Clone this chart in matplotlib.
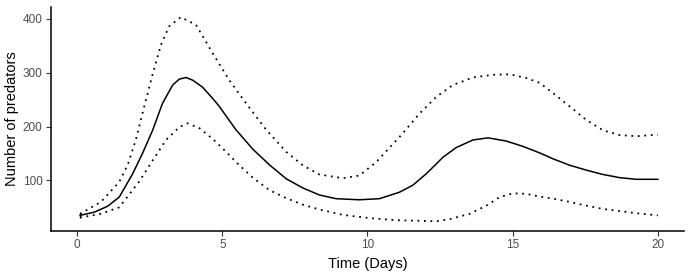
import matplotlib
matplotlib.use("Agg")
import matplotlib.pyplot as plt

plt.rcParams['font.family'] = ['Liberation Sans', 'DejaVu Sans']

# mean number of predators over time (days)
days = [0.1, 0.59, 1.05, 1.45, 1.91, 2.25, 2.6, 2.94, 3.29, 3.52, 3.75,
        3.98, 4.32, 4.67, 4.9, 5.47, 6.05, 6.62, 7.2, 7.77, 8.34, 8.92, 9.72,
        10.41, 11.1, 11.56, 12.02, 12.6, 13.06, 13.63, 14.15, 14.78, 15.36,
        15.93, 16.39, 16.97, 17.54, 18.11, 18.69, 19.26, 20.0]
mean_pred = [35, 41, 52, 69, 112, 150, 193, 243, 277, 288, 291,
             286, 273, 252, 237, 194, 158, 129, 103, 86, 73, 66, 64,
             66, 78, 91, 112, 143, 161, 175, 179, 173, 163,
             151, 140, 128, 119, 111, 105, 102, 102]

# upper band
upper_days = [0.1, 0.82, 1.45, 1.75, 2.02, 2.31, 2.6, 2.89, 3.17, 3.57, 4.09,
              4.67, 5.24, 5.82, 6.51, 7.2, 7.77, 8.34, 9.15, 9.72,
              10.3, 11.16, 11.79, 12.37, 12.94, 13.63, 14.32, 14.9, 15.47,
              15.93, 16.39, 16.97, 17.54, 18.11, 18.69, 19.26, 20.0]
upper_pred = [38, 60, 97, 130, 175, 237, 297, 352, 386, 403, 389,
              336, 286, 243, 194, 153, 128, 111, 104, 109,
              134, 184, 224, 255, 277, 291, 296, 297, 290,
              281, 262, 237, 212, 193, 184, 182, 185]

# lower band
lower_days = [0.1, 0.82, 1.45, 2.14, 2.6, 3.06, 3.52, 3.8, 4.21, 4.67,
              5.13, 5.53, 6.05, 6.62, 7.2, 7.77, 8.34, 9.15, 10.07, 11.0,
              11.79, 12.37, 12.83, 13.52, 14.09, 14.55, 15.01, 15.47, 15.93,
              16.39, 16.97, 17.54, 18.11, 18.69, 19.26, 20.0]
lower_pred = [31, 38, 50, 98, 137, 175, 199, 206, 197, 177,
              153, 131, 105, 82, 67, 55, 46, 36, 30, 26,
              25, 24, 28, 38, 53, 69, 76, 75, 70,
              66, 60, 53, 47, 43, 39, 35]

fig = plt.figure(figsize=(6.92, 2.77), dpi=100)
ax = fig.add_axes([0.0737, 0.166, 0.9147, 0.809])

dots = (0, (1, 2.6))
ax.plot(upper_days, upper_pred, color='black', lw=1.3, linestyle=dots)
ax.plot(lower_days, lower_pred, color='black', lw=1.3, linestyle=dots)
ax.plot(days, mean_pred, color='black', lw=1.1, solid_joinstyle='round')
ax.vlines(days[0], 31, 39, color='black', lw=0.9)

ax.set_xlim(-0.9, 20.9)
ax.set_ylim(6, 422)
ax.set_xticks([0, 5, 10, 15, 20])
ax.set_yticks([100, 200, 300, 400])

for side in ['top', 'right']:
    ax.spines[side].set_visible(False)
for side in ['left', 'bottom']:
    ax.spines[side].set_linewidth(1.1)
ax.tick_params(direction='out', length=3.5, width=0.8, color='#333333',
               labelsize=8.5, labelcolor='#4D4D4D', pad=2.5)

ax.set_xlabel('Time (Days)', fontsize=10.5, labelpad=4)
ax.set_ylabel('Number of predators', fontsize=10.5, labelpad=3)

plt.savefig('out.png', dpi=100)
